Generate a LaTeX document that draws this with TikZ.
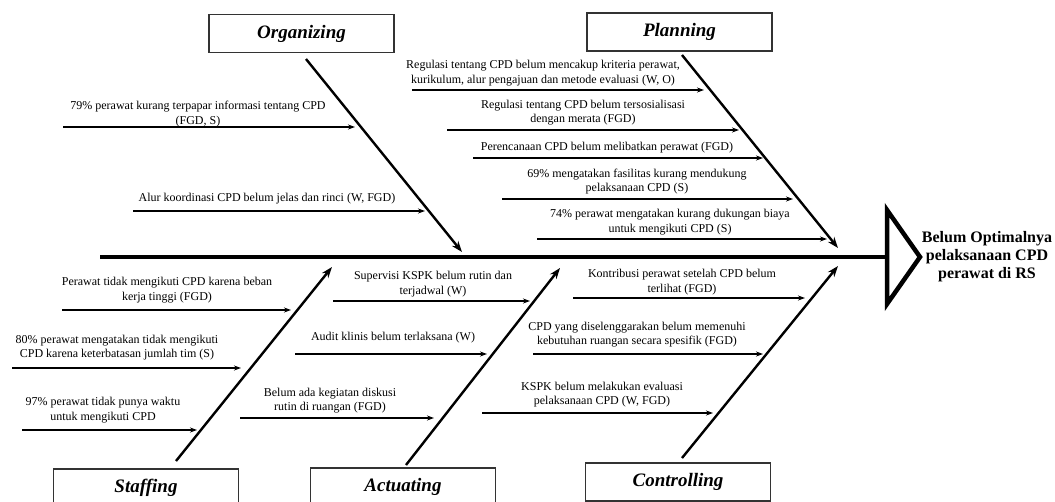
\documentclass[tikz,border=0pt]{standalone}
\usepackage{fontspec}
\setmainfont{Liberation Serif}
\usetikzlibrary{arrows.meta}
\begin{document}
\begin{tikzpicture}[x=1pt,y=-1pt,
  catbox/.style={draw=black!80,line width=1.3pt,minimum width=185pt,minimum height=38pt,inner sep=0pt,font=\fontsize{19}{21}\selectfont\bfseries\itshape},
  bone/.style={line width=2.4pt,-{Stealth[length=11pt,width=8pt]}},
  sub/.style={line width=1.2pt,-{Stealth[length=7pt,width=5pt]}},
  cause/.style={align=center,inner sep=0pt,font=\fontsize{12}{14.5}\selectfont},
  spine/.style={line width=4.5pt},
  headtri/.style={line width=4.5pt,line join=miter}]
\useasboundingbox (0,0) rectangle (1055,501);
% category boxes
\node[catbox] (org) at (301.5,33.5) {Organizing};
\node[catbox] (plan) at (679.5,32) {Planning};
\node[catbox] (staff) at (146,488) {Staffing};
\node[catbox] (act) at (403,487) {Actuating};
\node[catbox] (ctrl) at (678,482) {Controlling};
% spine and head
\coordinate (spL) at (100,257);
\coordinate (spR) at (887,257);
\draw[spine] (spL) -- (spR);
\draw[headtri] (887,210) -- (920,257) -- (887,304) -- cycle;
\node[align=center,inner sep=0pt,font=\fontsize{16}{18}\selectfont\bfseries] (effect) at (987,257) {Belum Optimalnya\\pelaksanaan CPD\\perawat di RS};
% bones
\coordinate (orgS) at (306,59);   \coordinate (orgE) at (462,252);
\coordinate (planS) at (682,55);  \coordinate (planE) at (838,248);
\coordinate (staffS) at (176,461);\coordinate (staffE) at (332,267);
\coordinate (actS) at (406,465);  \coordinate (actE) at (560,268);
\coordinate (ctrlS) at (682,458); \coordinate (ctrlE) at (838,266);
\draw[bone] (orgS) -- (orgE);
\draw[bone] (planS) -- (planE);
\draw[bone] (staffS) -- (staffE);
\draw[bone] (actS) -- (actE);
\draw[bone] (ctrlS) -- (ctrlE);
% Organizing causes
\coordinate (a1s) at (63,127);  \coordinate (a1e) at (355,127);
\draw[sub] (a1s) -- (a1e);
\node[cause] (t1) at (198,114) {79\% perawat kurang terpapar informasi tentang CPD\\(FGD, S)};
\coordinate (a2s) at (133,211); \coordinate (a2e) at (425,211);
\draw[sub] (a2s) -- (a2e);
\node[cause] (t2) at (267,199) {Alur koordinasi CPD belum jelas dan rinci (W, FGD)};
% Planning causes
\coordinate (a3s) at (412,90);  \coordinate (a3e) at (704,90);
\draw[sub] (a3s) -- (a3e);
\node[cause] (t3) at (543,73) {Regulasi tentang CPD belum mencakup kriteria perawat,\\kurikulum, alur pengajuan dan metode evaluasi (W, O)};
\coordinate (a4s) at (447,130); \coordinate (a4e) at (739,130);
\draw[sub] (a4s) -- (a4e);
\node[cause] (t4) at (583,112.5) {Regulasi tentang CPD belum tersosialisasi\\dengan merata (FGD)};
\coordinate (a5s) at (473,158); \coordinate (a5e) at (763,158);
\draw[sub] (a5s) -- (a5e);
\node[cause] (t5) at (607,148) {Perencanaan CPD belum melibatkan perawat (FGD)};
\coordinate (a6s) at (502,199); \coordinate (a6e) at (793,199);
\draw[sub] (a6s) -- (a6e);
\node[cause] (t6) at (637,181.5) {69\% mengatakan fasilitas kurang mendukung\\pelaksanaan CPD (S)};
\coordinate (a7s) at (537,239); \coordinate (a7e) at (827,239);
\draw[sub] (a7s) -- (a7e);
\node[cause] (t7) at (670,222) {74\% perawat mengatakan kurang dukungan biaya\\untuk mengikuti CPD (S)};
% Staffing causes
\coordinate (a8s) at (62,310);  \coordinate (a8e) at (291,310);
\draw[sub] (a8s) -- (a8e);
\node[cause] (t8) at (167,290) {Perawat tidak mengikuti CPD karena beban\\kerja tinggi (FGD)};
\coordinate (a9s) at (12,368);  \coordinate (a9e) at (241,368);
\draw[sub] (a9s) -- (a9e);
\node[cause] (t9) at (117,347.5) {80\% perawat mengatakan tidak mengikuti\\CPD karena keterbatasan jumlah tim (S)};
\coordinate (a10s) at (22,430); \coordinate (a10e) at (197,430);
\draw[sub] (a10s) -- (a10e);
\node[cause] (t10) at (103,410) {97\% perawat tidak punya waktu\\untuk mengikuti CPD};
% Actuating causes
\coordinate (a11s) at (333,301); \coordinate (a11e) at (530,301);
\draw[sub] (a11s) -- (a11e);
\node[cause] (t11) at (433,284) {Supervisi KSPK belum rutin dan\\terjadwal (W)};
\coordinate (a12s) at (295,354); \coordinate (a12e) at (487,354);
\draw[sub] (a12s) -- (a12e);
\node[cause] (t12) at (393,338) {Audit klinis belum terlaksana (W)};
\coordinate (a13s) at (240,418); \coordinate (a13e) at (434,418);
\draw[sub] (a13s) -- (a13e);
\node[cause] (t13) at (330,400.5) {Belum ada kegiatan diskusi\\rutin di ruangan (FGD)};
% Controlling causes
\coordinate (a14s) at (573,298); \coordinate (a14e) at (805,298);
\draw[sub] (a14s) -- (a14e);
\node[cause] (t14) at (682,282) {Kontribusi perawat setelah CPD belum\\terlihat (FGD)};
\coordinate (a15s) at (533,354); \coordinate (a15e) at (763,354);
\draw[sub] (a15s) -- (a15e);
\node[cause] (t15) at (637,334.5) {CPD yang diselenggarakan belum memenuhi\\kebutuhan ruangan secara spesifik (FGD)};
\coordinate (a16s) at (482,413); \coordinate (a16e) at (713,413);
\draw[sub] (a16s) -- (a16e);
\node[cause] (t16) at (602,394.5) {KSPK belum melakukan evaluasi\\pelaksanaan CPD (W, FGD)};
\end{tikzpicture}
\end{document}
